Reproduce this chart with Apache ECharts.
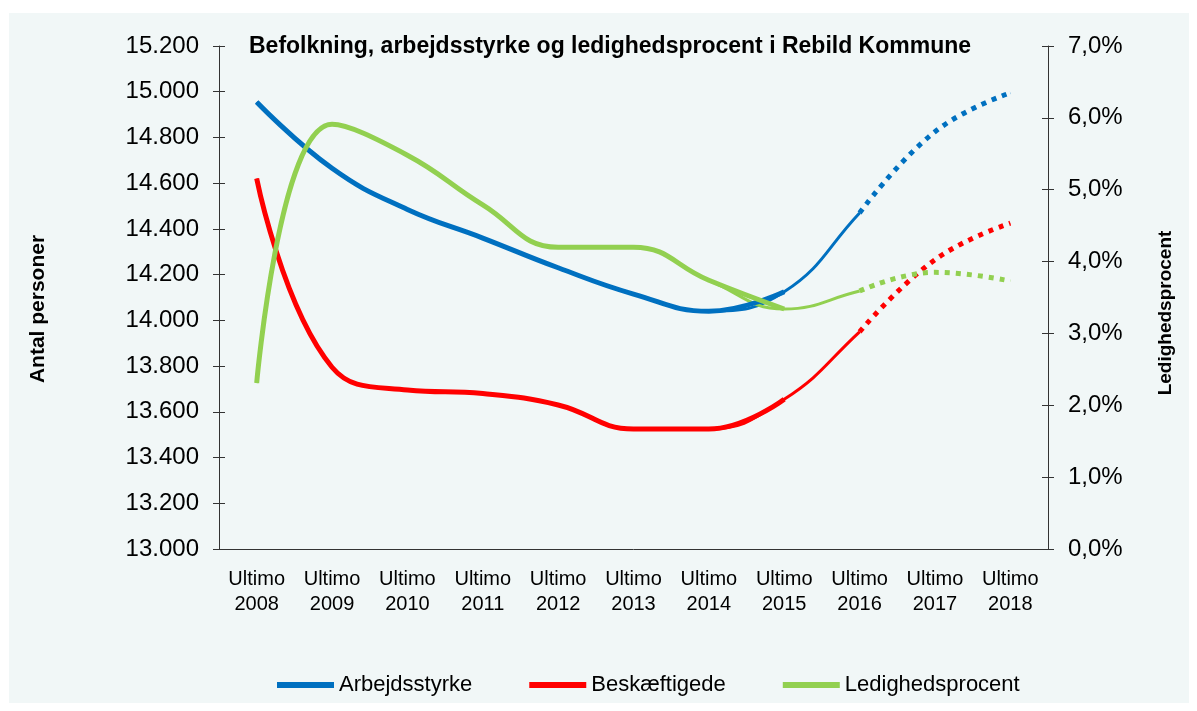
<!DOCTYPE html>
<html>
<head>
<meta charset="utf-8">
<script src="https://cdn.jsdelivr.net/npm/echarts@6/dist/echarts.min.js"></script>
<style>
  html, body { margin: 0; padding: 0; background: #fff; }
  #container { width: 1197px; height: 711px; }
</style>
</head>
<body>
<div id="container"></div>
<script>
var myChart = echarts.init(document.getElementById('container'));

var categories = ['Ultimo\n2008', 'Ultimo\n2009', 'Ultimo\n2010', 'Ultimo\n2011', 'Ultimo\n2012', 'Ultimo\n2013',
  'Ultimo\n2014', 'Ultimo\n2015', 'Ultimo\n2016', 'Ultimo\n2017', 'Ultimo\n2018'];
var arbejdsstyrke = [14955, 14665, 14485, 14360, 14230, 14115, 14040, 14125, 14470, 14825, 14995];
var beskaeftigede = [14620, 13795, 13695, 13680, 13630, 13525, 13525, 13655, 13950, 14265, 14425];
var ledighed = [2.31, 5.91, 5.48, 4.79, 4.20, 4.20, 3.74, 3.34, 3.59, 3.85, 3.73];

var names = ['Arbejdsstyrke', 'Beskæftigede', 'Ledighedsprocent'];
var colors = ['#0070c0', '#ff0000', '#92d050'];
var bg = '#f1f7f7';

// keep values between index a and b, null elsewhere
function seg(arr, a, b) {
  return arr.map(function(v, i) { return (i >= a && i <= b) ? v : null; });
}

var labelFont = 'Liberation Sans, Arial, sans-serif';
var axisColor = '#333';

// layers: thin full line, mask over the forecast part, dotted forecast, thick actual line
var series = [];
[arbejdsstyrke, beskaeftigede, ledighed].forEach(function(arr, k) {
  var yi = k === 2 ? 1 : 0;
  series.push({
    name: names[k] + ' tynd', type: 'line', yAxisIndex: yi, smooth: 0.45, showSymbol: false, z: 2,
    data: arr.slice(), lineStyle: { color: colors[k], width: 3 }, itemStyle: { color: colors[k] }
  });
  series.push({
    name: names[k] + ' maske', type: 'line', yAxisIndex: yi, smooth: 0.45, showSymbol: false, z: 3,
    data: seg(arr, 8, 10), lineStyle: { color: bg, width: 9 }, itemStyle: { color: bg }
  });
  series.push({
    name: names[k] + ' prognose', type: 'line', yAxisIndex: yi, smooth: 0.45, showSymbol: false, z: 4,
    data: seg(arr, 8, 10), lineStyle: { color: colors[k], width: 5, type: [5, 6] }, itemStyle: { color: colors[k] }
  });
  series.push({
    name: names[k], type: 'line', yAxisIndex: yi, smooth: 0.45, showSymbol: false, z: 5,
    data: seg(arr, 0, 7), lineStyle: { color: colors[k], width: 5 }, itemStyle: { color: colors[k] }
  });
});

var option = {
  backgroundColor: '#ffffff',
  animation: false,
  graphic: [{
    type: 'rect', left: 9, top: 13, z: -10,
    shape: { width: 1180, height: 690 },
    style: { fill: bg }
  }, {
    type: 'text', x: 38, y: 309, rotation: Math.PI / 2,
    style: { text: 'Antal personer', fill: '#000', font: 'bold 21px Liberation Sans, Arial, sans-serif',
      align: 'center', verticalAlign: 'middle' }
  }, {
    type: 'text', x: 1166, y: 313, rotation: Math.PI / 2,
    style: { text: 'Ledighedsprocent', fill: '#000', font: 'bold 19px Liberation Sans, Arial, sans-serif',
      align: 'center', verticalAlign: 'middle' }
  }],
  title: {
    text: 'Befolkning, arbejdsstyrke og ledighedsprocent i Rebild Kommune',
    left: 244, top: 30,
    textStyle: { fontFamily: labelFont, fontWeight: 'bold', fontSize: 23, color: '#000' }
  },
  legend: {
    data: names,
    left: 272, top: 669,
    icon: 'rect', itemWidth: 57, itemHeight: 6, itemGap: 57,
    textStyle: { fontFamily: labelFont, fontSize: 22, color: '#000' }
  },
  grid: { left: 219, right: 149, top: 46, bottom: 162 },
  xAxis: [{
    type: 'category', data: categories, boundaryGap: true,
    axisLine: { lineStyle: { color: axisColor } },
    axisTick: { length: 6, lineStyle: { color: axisColor } },
    axisLabel: { fontFamily: labelFont, fontSize: 20, color: '#000', lineHeight: 25, margin: 18, interval: 0 }
  }, {
    type: 'category', data: categories, boundaryGap: true, position: 'bottom',
    axisLine: { show: false },
    axisTick: { inside: true, length: 6, lineStyle: { color: axisColor } },
    axisLabel: { show: false }
  }],
  yAxis: [{
    type: 'value', min: 13000, max: 15200, interval: 200, position: 'left',
    splitLine: { show: false },
    axisLine: { show: true, lineStyle: { color: axisColor } },
    axisTick: { show: true, length: 6, lineStyle: { color: axisColor } },
    axisLabel: {
      fontFamily: labelFont, fontSize: 24, color: '#000', margin: 20,
      formatter: function(v) { return String(v).replace(/(\d{2})(\d{3})$/, '$1.$2'); }
    }
  }, {
    type: 'value', min: 0, max: 7, interval: 1, position: 'right',
    splitLine: { show: false },
    axisLine: { show: true, lineStyle: { color: axisColor } },
    axisTick: { show: true, length: 6, lineStyle: { color: axisColor } },
    axisLabel: {
      fontFamily: labelFont, fontSize: 24, color: '#000', margin: 20,
      formatter: function(v) { return v.toFixed(1).replace('.', ',') + '%'; }
    }
  }, {
    type: 'value', min: 13000, max: 15200, interval: 200, position: 'left',
    splitLine: { show: false }, axisLine: { show: false }, axisLabel: { show: false },
    axisTick: { show: true, inside: true, length: 6, lineStyle: { color: axisColor } }
  }, {
    type: 'value', min: 0, max: 7, interval: 1, position: 'right',
    splitLine: { show: false }, axisLine: { show: false }, axisLabel: { show: false },
    axisTick: { show: true, inside: true, length: 6, lineStyle: { color: axisColor } }
  }],
  series: series
};

myChart.setOption(option);
</script>
</body>
</html>
